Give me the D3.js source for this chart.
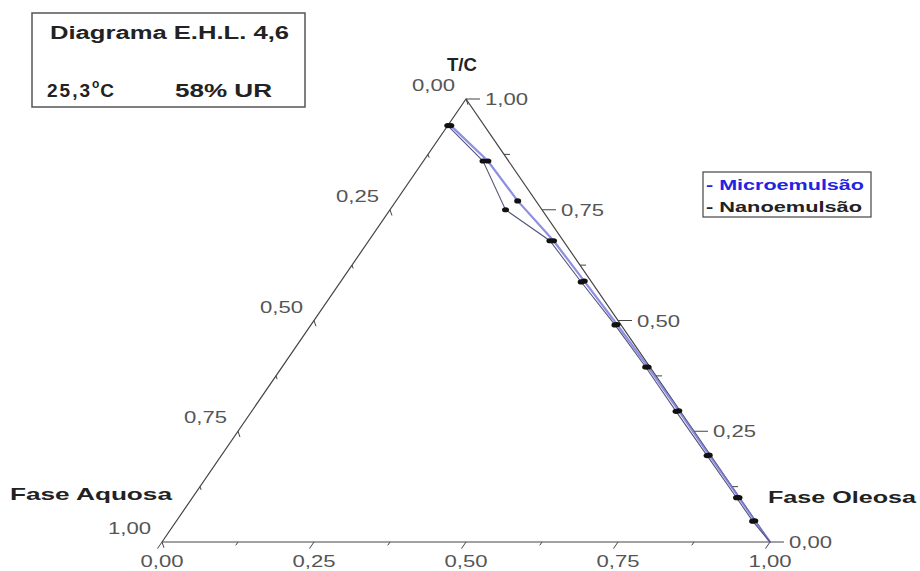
<!DOCTYPE html>
<html><head><meta charset="utf-8">
<script src="https://cdn.jsdelivr.net/npm/d3@7"></script>
<style>body{margin:0;background:#fff}svg{display:block}</style>
</head><body>
<svg id="chart" width="920" height="571"></svg>
<script>
// ---- data ----
const vertexNames = ["Fase Aquosa", "Fase Oleosa", "T/C"];
const majorTicks = [0, 0.25, 0.5, 0.75, 1];
const minorTicks = [0.125, 0.375, 0.625, 0.875];
const tickLabels = ["0,00", "0,25", "0,50", "0,75", "1,00"];
const seriesNames = ["Microemulsão", "Nanoemulsão"];
const titleLine1 = "Diagrama E.H.L. 4,6";
const tempLabel = "25,3";
const humidityLabel = "58% UR";

// compositions: aquosa, oleosa, T/C fractions
const microAquosa = [0.055, 0.034, 0.030, 0.016, 0.011, 0.006, 0.003, 0.002, 0.002, 0.001, 0.001, 0.000];
const microOleosa = [0.005, 0.106, 0.200, 0.304, 0.400, 0.503, 0.602, 0.702, 0.802, 0.899, 0.951, 1.000];
const microTC     = [0.940, 0.860, 0.770, 0.680, 0.589, 0.491, 0.395, 0.296, 0.196, 0.100, 0.048, 0.000];

const nanoAquosa = [0.060, 0.042, 0.060, 0.022, 0.017, 0.010, 0.007, 0.007, 0.006, 0.005, 0.005, 0.000];
const nanoOleosa = [0.000, 0.098, 0.190, 0.298, 0.396, 0.500, 0.598, 0.698, 0.799, 0.895, 0.948, 1.000];
const nanoTC     = [0.940, 0.860, 0.750, 0.680, 0.587, 0.490, 0.395, 0.295, 0.195, 0.100, 0.047, 0.000];

// ---- scales ----
const svg = d3.select("#chart");
const xs = d3.scaleLinear().domain([0, 1]).range([162, 770]);
const ys = d3.scaleLinear().domain([0, 1]).range([542, 99]);
function proj(a, o, t) { const s = a + o + t; o /= s; t /= s; return [xs(o + t / 2), ys(t)]; }

const font = "'Liberation Sans', Arial, sans-serif";
const edgeColor = "#444";
const labelColor = "#555";

// triangle edges
const A = proj(1, 0, 0), O = proj(0, 1, 0), T = proj(0, 0, 1);
svg.append("path")
  .attr("d", d3.line()([A, O, T, A]))
  .attr("fill", "none").attr("stroke", edgeColor).attr("stroke-width", 1.2);

function unit(p, q) { const dx = q[0] - p[0], dy = q[1] - p[1], l = Math.hypot(dx, dy); return [dx / l, dy / l]; }
const dirLeft = unit(T, A);
const dirRight = unit(T, O);

const tickG = svg.append("g").attr("stroke", edgeColor).attr("stroke-width", 1);
const labG = svg.append("g").attr("font-family", font).attr("fill", labelColor).attr("font-size", 17);

// bottom axis: oleosa fraction
[...majorTicks.map(v => [v, 8]), ...minorTicks.map(v => [v, 4])].forEach(([v, len]) => {
  const p = proj(1 - v, v, 0);
  tickG.append("line").attr("x1", p[0]).attr("y1", p[1])
    .attr("x2", p[0] + dirLeft[0] * len).attr("y2", p[1] + dirLeft[1] * len);
});
majorTicks.forEach((v, i) => {
  const p = proj(1 - v, v, 0);
  labG.append("text").attr("x", p[0]).attr("y", p[1] + 25).attr("text-anchor", "middle")
    .attr("textLength", 43).attr("lengthAdjust", "spacingAndGlyphs").text(tickLabels[i]);
});

// left axis: aquosa fraction
[...majorTicks.map(v => [v, 7]), ...minorTicks.map(v => [v, 4])].forEach(([v, len]) => {
  const p = proj(v, 0, 1 - v);
  tickG.append("line").attr("x1", p[0]).attr("y1", p[1])
    .attr("x2", p[0] + dirRight[0] * len * 0.5).attr("y2", p[1] + dirRight[1] * len);
});
majorTicks.forEach((v, i) => {
  const p = proj(v, 0, 1 - v);
  labG.append("text").attr("x", p[0] - 11).attr("y", p[1] - 8).attr("text-anchor", "end")
    .attr("textLength", 43).attr("lengthAdjust", "spacingAndGlyphs").text(tickLabels[i]);
});

// right axis: T/C fraction
[...majorTicks.map(v => [v, 14]), ...minorTicks.map(v => [v, 6])].forEach(([v, len]) => {
  const p = proj(0, 1 - v, v);
  tickG.append("line").attr("x1", p[0]).attr("y1", p[1])
    .attr("x2", p[0] + len).attr("y2", p[1]);
});
majorTicks.forEach((v, i) => {
  const p = proj(0, 1 - v, v);
  labG.append("text").attr("x", p[0] + 19).attr("y", p[1] + 6).attr("text-anchor", "start")
    .attr("textLength", 43).attr("lengthAdjust", "spacingAndGlyphs").text(tickLabels[i]);
});

// vertex titles
const titleG = svg.append("g").attr("font-family", font).attr("font-weight", "bold").attr("fill", "#222");
titleG.append("text").attr("x", 447).attr("y", 71).attr("font-size", 18)
  .attr("textLength", 30).attr("lengthAdjust", "spacingAndGlyphs").text(vertexNames[2]);
titleG.append("text").attr("x", 10).attr("y", 500).attr("font-size", 17)
  .attr("textLength", 162).attr("lengthAdjust", "spacingAndGlyphs").text(vertexNames[0]);
titleG.append("text").attr("x", 768).attr("y", 503).attr("font-size", 16)
  .attr("textLength", 148).attr("lengthAdjust", "spacingAndGlyphs").text(vertexNames[1]);

// data series
const micro = microAquosa.map((a, i) => proj(a, microOleosa[i], microTC[i]));
const nano = nanoAquosa.map((a, i) => proj(a, nanoOleosa[i], nanoTC[i]));
const line = d3.line();
svg.append("path").attr("d", line(micro)).attr("fill", "none")
  .attr("stroke", "#7a7ae0").attr("stroke-width", 2.2).attr("stroke-opacity", 0.85);
svg.append("path").attr("d", line(nano)).attr("fill", "none")
  .attr("stroke", "#55557a").attr("stroke-width", 1.1);
[micro.slice(0, -1), nano.slice(0, -1)].forEach(pts => {
  svg.append("g").selectAll("ellipse").data(pts).join("ellipse")
    .attr("cx", d => d[0]).attr("cy", d => d[1]).attr("rx", 3.5).attr("ry", 2.6)
    .attr("fill", "#111");
});

// info box
const box = svg.append("g");
box.append("rect").attr("x", 32).attr("y", 13).attr("width", 273).attr("height", 94)
  .attr("fill", "#fff").attr("stroke", "#555").attr("stroke-width", 1.5);
box.append("text").attr("x", 50).attr("y", 39).attr("font-family", font).attr("font-weight", "bold")
  .attr("font-size", 18).attr("fill", "#222").attr("textLength", 239).attr("lengthAdjust", "spacingAndGlyphs")
  .text(titleLine1);
const t2 = box.append("text").attr("x", 47).attr("y", 97).attr("font-family", font).attr("font-weight", "bold")
  .attr("font-size", 19).attr("fill", "#222").attr("letter-spacing", 2);
t2.append("tspan").text(tempLabel);
t2.append("tspan").attr("font-size", 12).attr("dy", -9).attr("letter-spacing", 1).text("o");
t2.append("tspan").attr("dy", 9).text("C");
box.append("text").attr("x", 175).attr("y", 97).attr("font-family", font).attr("font-weight", "bold")
  .attr("font-size", 18).attr("fill", "#222").attr("textLength", 97).attr("lengthAdjust", "spacingAndGlyphs")
  .text(humidityLabel);

// legend
const leg = svg.append("g");
leg.append("rect").attr("x", 703).attr("y", 172).attr("width", 168).attr("height", 45)
  .attr("fill", "#fff").attr("stroke", "#444").attr("stroke-width", 1.2);
leg.append("text").attr("x", 706).attr("y", 190).attr("font-family", font).attr("font-weight", "bold")
  .attr("font-size", 14).attr("fill", "#2323e0").attr("textLength", 158).attr("lengthAdjust", "spacingAndGlyphs")
  .text("- " + seriesNames[0]);
leg.append("text").attr("x", 706).attr("y", 212).attr("font-family", font).attr("font-weight", "bold")
  .attr("font-size", 14).attr("fill", "#222").attr("textLength", 156).attr("lengthAdjust", "spacingAndGlyphs")
  .text("- " + seriesNames[1]);
</script>
</body></html>
